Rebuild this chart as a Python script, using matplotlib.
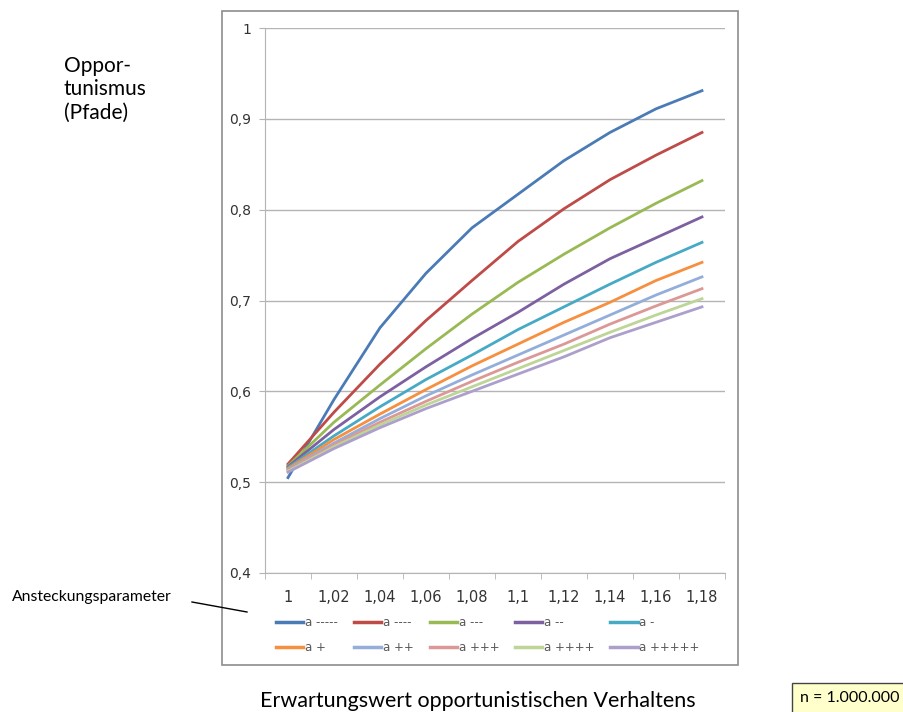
import numpy as np
import matplotlib
matplotlib.use('Agg')
import matplotlib.pyplot as plt
from matplotlib.patches import Rectangle
from matplotlib.lines import Line2D

# category labels of the x axis
x_labels = ['1', '1,02', '1,04', '1,06', '1,08', '1,1', '1,12', '1,14', '1,16', '1,18']

series_names = ['a -----', 'a ----', 'a ---', 'a --', 'a -',
                'a +', 'a ++', 'a +++', 'a ++++', 'a +++++']

a_m5 = [0.505, 0.591, 0.670, 0.730, 0.780, 0.817, 0.854, 0.885, 0.911, 0.931]
a_m4 = [0.520, 0.577, 0.630, 0.678, 0.722, 0.765, 0.801, 0.833, 0.860, 0.885]
a_m3 = [0.518, 0.566, 0.607, 0.647, 0.685, 0.720, 0.751, 0.780, 0.807, 0.832]
a_m2 = [0.517, 0.558, 0.594, 0.627, 0.658, 0.687, 0.718, 0.746, 0.769, 0.792]
a_m1 = [0.516, 0.551, 0.583, 0.613, 0.640, 0.668, 0.693, 0.718, 0.742, 0.764]
a_p1 = [0.515, 0.547, 0.575, 0.602, 0.628, 0.652, 0.676, 0.698, 0.722, 0.742]
a_p2 = [0.514, 0.543, 0.570, 0.595, 0.618, 0.640, 0.662, 0.684, 0.706, 0.726]
a_p3 = [0.513, 0.541, 0.566, 0.589, 0.611, 0.632, 0.652, 0.674, 0.694, 0.713]
a_p4 = [0.512, 0.539, 0.563, 0.585, 0.605, 0.625, 0.645, 0.665, 0.684, 0.702]
a_p5 = [0.511, 0.537, 0.560, 0.581, 0.600, 0.619, 0.638, 0.659, 0.676, 0.693]
series = [a_m5, a_m4, a_m3, a_m2, a_m1, a_p1, a_p2, a_p3, a_p4, a_p5]

colors = ['#4A7BB7', '#BE4B48', '#98B954', '#7D60A0', '#46AAC5',
          '#F68F3F', '#93AEDA', '#DB9896', '#BDD597', '#AD9FCB']

fig = plt.figure(figsize=(9.04, 7.12), dpi=100)
W, H = 904, 712

# chart frame
fig.patches.append(Rectangle((222 / W, 1 - 665 / H), (738 - 222) / W, (665 - 11) / H,
                             transform=fig.transFigure, fill=False,
                             edgecolor='#8c8c8c', linewidth=1.2))

ax = fig.add_axes([265 / W, 1 - 573 / H, 460 / W, 545 / H])
x = np.arange(len(x_labels))
for vals, name, c in zip(series, series_names, colors):
    ax.plot(x, vals, color=c, linewidth=2.0, label=name)

ax.set_xlim(-0.5, 9.5)
ax.set_ylim(0.4, 1.0)
ax.set_yticks(np.arange(0.4, 1.01, 0.1))
ax.set_yticklabels(['0,4', '0,5', '0,6', '0,7', '0,8', '0,9', '1'])
ax.yaxis.grid(True, color='#b4b4b4', linewidth=1)
ax.set_axisbelow(True)
for s in ['top', 'right']:
    ax.spines[s].set_visible(False)
for s in ['left', 'bottom']:
    ax.spines[s].set_color('#b4b4b4')
ax.set_xticks(x)
ax.set_xticklabels(x_labels)
ax.set_xticks(np.arange(-0.5, 10, 1), minor=True)
ax.tick_params(axis='x', which='major', length=0, pad=12, labelsize=10.5, labelcolor='#333333')
ax.tick_params(axis='x', which='minor', length=4, color='#b4b4b4')
ax.tick_params(axis='y', length=4, color='#b4b4b4', labelsize=10, labelcolor='#333333', pad=6)

# legend, two rows of five (matplotlib fills columns first, so interleave)
order = [0, 5, 1, 6, 2, 7, 3, 8, 4, 9]
handles = [Line2D([0], [0], color=colors[i], linewidth=2.5) for i in order]
labels = [series_names[i] for i in order]
fig.legend(handles, labels, loc='center', bbox_to_anchor=(488 / W, 1 - 635 / H),
           ncol=5, frameon=False, fontsize=8.5, handlelength=2.3, handletextpad=0.15,
           columnspacing=1.35, labelspacing=1.0, labelcolor='#595959', borderaxespad=0)

fig.text(64 / W, 1 - 56 / H, 'Oppor-\ntunismus\n(Pfade)', fontsize=15, family='Lato',
         va='top', ha='left', linespacing=1.2)
fig.text(12 / W, 1 - 597 / H, 'Ansteckungsparameter', fontsize=11.3, family='Lato',
         va='center', ha='left')
fig.add_artist(Line2D([192 / W, 247 / W], [1 - 602 / H, 1 - 612 / H], color='black',
                      linewidth=1, transform=fig.transFigure))
fig.text(478 / W, 1 - 701 / H, 'Erwartungswert opportunistischen Verhaltens', fontsize=15.5,
         family='Lato', va='center', ha='center')
fig.text(850 / W, 1 - 698 / H, 'n = 1.000.000', fontsize=11.5, family='Lato', va='center',
         ha='center', bbox=dict(boxstyle='square,pad=0.5', facecolor='#FFFFCC',
                                edgecolor='#444444', linewidth=1))

fig.savefig('out.png', dpi=100)
